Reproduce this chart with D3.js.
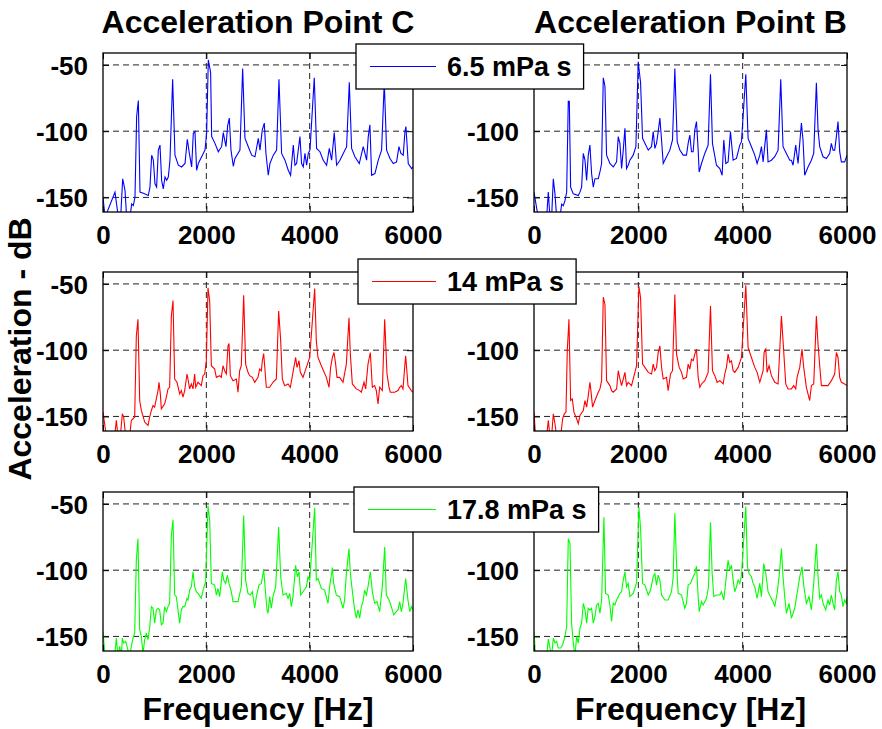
<!DOCTYPE html>
<html><head><meta charset="utf-8">
<script src="https://cdn.jsdelivr.net/npm/d3@7"></script>
<style>
html,body{margin:0;padding:0;background:#fff;}
svg{display:block;font-family:"Liberation Sans",Arial,sans-serif;font-weight:bold;}
</style></head>
<body><svg id="c" width="882" height="729"></svg>
<script>
// ---- data: [frequency Hz, acceleration dB] ----
const columnTitles = ["Acceleration Point C", "Acceleration Point B"];
const viscosityLabels = ["6.5 mPa s", "14 mPa s", "17.8 mPa s"];
const seriesColors = ["#0000ff", "#ff0000", "#00ff00"];
const xTicks = [0, 2000, 4000, 6000];
const yTicks = [-150, -100, -50];
const xLabel = "Frequency [Hz]";
const yLabel = "Acceleration - dB";

const pointC_65 = [[0,-150],[40,-165],[232,-146],[297,-165],[342,-165],[381,-135.9],[426,-144.7],[458,-165],[522,-165],[555,-154.9],[587,-156.2],[619,-149.8],[651,-88.9],[684,-76.9],[716,-146],[780,-146.8],[877,-148.6],[909,-142.2],[942,-118.1],[974,-121.9],[1006,-139.7],[1038,-142.2],[1071,-114.3],[1103,-110.5],[1135,-137.1],[1167,-143.5],[1200,-134.6],[1232,-137.1],[1264,-134.6],[1296,-121.9],[1348,-60.9],[1393,-118.1],[1458,-125.7],[1522,-127],[1587,-124.4],[1632,-106.1],[1671,-116.8],[1716,-127],[1748,-101.6],[1780,-100.3],[1812,-129.5],[1845,-124.4],[1909,-119.3],[1974,-114.3],[2006,-101.6],[2038,-46.2],[2083,-55.8],[2103,-104.1],[2167,-109.2],[2232,-115.5],[2296,-111.7],[2328,-101.1],[2380,-111.7],[2412,-96],[2445,-90.1],[2477,-114.3],[2522,-126.5],[2554,-120.6],[2651,-114.3],[2703,-52.8],[2748,-105.4],[2812,-111.7],[2877,-118.1],[2941,-119.3],[3006,-105.4],[3038,-114.3],[3083,-99],[3122,-93.9],[3154,-116.8],[3199,-133.3],[3231,-124.4],[3296,-118.1],[3360,-114.3],[3406,-60.9],[3457,-116.8],[3522,-121.9],[3586,-129.5],[3631,-133.3],[3683,-110.5],[3715,-125.7],[3747,-124.4],[3812,-104.1],[3844,-124.4],[3876,-127],[3909,-116.8],[3941,-125.7],[3973,-116.8],[4006,-114.3],[4089,-59.7],[4134,-113],[4199,-115.5],[4263,-121.9],[4328,-125.7],[4380,-113],[4425,-121.9],[4476,-101.1],[4521,-125.7],[4586,-121.9],[4650,-116.8],[4715,-111.7],[4767,-63],[4812,-113],[4876,-119.3],[4960,-124.4],[5037,-111.7],[5070,-116.8],[5102,-121.9],[5134,-104.1],[5166,-95.2],[5199,-133.3],[5263,-132],[5328,-121.9],[5392,-114.3],[5444,-63],[5489,-114.3],[5554,-120.6],[5618,-124.4],[5682,-123.2],[5728,-111.7],[5766,-116.8],[5811,-118.1],[5844,-100.3],[5863,-96.5],[5908,-124.4],[5973,-128.2],[6000,-127]];

const pointB_65 = [[0,-146],[80,-165],[243,-165],[274,-146],[306,-165],[338,-165],[370,-135.9],[402,-147.3],[434,-165],[498,-165],[530,-155],[562,-156.2],[594,-152.4],[626,-146],[657,-77.4],[677,-77.4],[702,-142.2],[753,-147.3],[849,-148.6],[881,-146],[913,-142.2],[945,-116.8],[977,-121.9],[1009,-137.1],[1040,-118.1],[1072,-110.5],[1104,-132],[1136,-142.2],[1168,-135.9],[1232,-135.9],[1264,-130.8],[1296,-124.4],[1328,-59.7],[1360,-66.1],[1391,-118.1],[1455,-124.4],[1519,-127],[1583,-123.2],[1615,-104.1],[1647,-109.2],[1679,-128.2],[1711,-114.3],[1743,-97.8],[1774,-128.2],[1806,-125.7],[1838,-121.9],[1902,-118.1],[1953,-111.7],[1998,-47.7],[2043,-63.5],[2081,-105.4],[2126,-109.2],[2190,-114.3],[2253,-111.7],[2285,-100.3],[2317,-113],[2349,-109.2],[2381,-100.3],[2413,-90.1],[2445,-106.6],[2477,-124.4],[2540,-119.3],[2604,-114.3],[2655,-106.6],[2700,-52.8],[2745,-107.9],[2796,-114.3],[2860,-118.1],[2923,-118.1],[2955,-109.2],[2987,-102.9],[3019,-115.5],[3051,-115.5],[3083,-99],[3115,-92.7],[3147,-114.3],[3166,-130.8],[3211,-124.4],[3274,-116.8],[3338,-110.5],[3383,-57.1],[3421,-109.2],[3498,-125.7],[3562,-128.2],[3606,-133.3],[3638,-106.6],[3677,-124.4],[3721,-123.2],[3766,-100.3],[3817,-121.9],[3881,-120.6],[3945,-110.5],[3977,-107.9],[4060,-57.1],[4104,-105.4],[4168,-111.7],[4232,-118.1],[4277,-124.4],[4328,-118.1],[4360,-111.7],[4392,-123.2],[4455,-99],[4487,-123.2],[4551,-121.9],[4615,-119.3],[4679,-114.3],[4730,-60.9],[4774,-111.7],[4838,-116.8],[4902,-121.9],[4934,-121.9],[4966,-125.7],[5017,-110.5],[5062,-124.4],[5126,-93.9],[5157,-106.6],[5189,-133.3],[5253,-127],[5317,-121.9],[5362,-116.8],[5413,-63.5],[5445,-99],[5477,-111.7],[5540,-119.3],[5604,-120.6],[5668,-116.8],[5700,-109.2],[5732,-114.3],[5764,-114.3],[5796,-104.1],[5828,-92.7],[5860,-115.5],[5892,-123.2],[5955,-123.2],[6000,-118.1]];

const pointC_14 = [[0,-146.75],[65,-165],[226,-165],[258,-153],[290,-165],[336,-165],[374,-148],[400,-150.5],[439,-165],[516,-165],[548,-153],[581,-151.75],[613,-150.5],[645,-89.25],[677,-76.75],[710,-138],[742,-145.5],[807,-154.25],[871,-156.75],[903,-150.5],[936,-145.5],[968,-141.75],[1000,-143],[1032,-136.75],[1065,-130.5],[1084,-124.25],[1110,-133],[1129,-144.25],[1194,-140.5],[1226,-135.5],[1258,-129.25],[1290,-128],[1323,-74.25],[1355,-62.5],[1387,-121.75],[1432,-124.25],[1484,-133],[1516,-130.5],[1548,-135.5],[1581,-130.5],[1626,-118],[1645,-121.75],[1677,-129.25],[1710,-125.5],[1742,-129.25],[1774,-118],[1794,-128],[1839,-124.25],[1903,-126.75],[1936,-119.25],[1968,-118],[2000,-108],[2032,-53],[2065,-63],[2097,-111.75],[2161,-114.25],[2194,-120.5],[2258,-119.25],[2290,-120.5],[2323,-111.75],[2355,-115.5],[2387,-118],[2419,-96.75],[2439,-95],[2465,-119.25],[2516,-123],[2581,-121.75],[2613,-131.75],[2645,-115.5],[2677,-111.75],[2723,-58.5],[2761,-110.5],[2806,-116.75],[2839,-119.25],[2890,-120.5],[2936,-124.25],[3000,-120.5],[3032,-114.25],[3065,-115.5],[3084,-108],[3110,-102.5],[3129,-111.75],[3161,-128],[3226,-128],[3290,-124.25],[3355,-121.75],[3400,-70.5],[3439,-93],[3471,-121.75],[3516,-126.75],[3581,-125.5],[3626,-128],[3677,-116.75],[3729,-105.5],[3755,-113],[3794,-108],[3819,-116.75],[3871,-120.5],[3936,-113],[4000,-105.5],[4045,-81.75],[4097,-53.5],[4129,-93],[4161,-105.5],[4226,-111.75],[4323,-120.5],[4374,-128],[4406,-113],[4439,-105.5],[4471,-101.75],[4503,-110.5],[4529,-120.5],[4581,-120.5],[4645,-124.25],[4710,-110.5],[4761,-75.5],[4787,-103],[4826,-125.5],[4903,-129.25],[4968,-130.5],[5000,-131.75],[5052,-124.25],[5084,-129.25],[5129,-110.5],[5174,-101.75],[5213,-128],[5258,-126.75],[5290,-130.5],[5323,-140.5],[5355,-128],[5406,-130.5],[5452,-76.75],[5497,-118],[5536,-128],[5561,-131.75],[5645,-131.75],[5710,-130.5],[5742,-128],[5774,-126.75],[5806,-129.25],[5839,-113],[5858,-104.25],[5903,-126.75],[5968,-130.5],[6000,-131.75]];

const pointB_14 = [[0,-146.75],[30,-165],[243,-165],[274,-153],[306,-165],[338,-165],[370,-148],[402,-155.5],[434,-165],[511,-165],[549,-151.75],[581,-148],[613,-146.75],[638,-100],[670,-76.75],[702,-138],[734,-136.75],[766,-146.75],[817,-151.75],[849,-155.5],[881,-149.25],[945,-145.5],[977,-138],[1009,-143],[1040,-134.25],[1072,-124.25],[1091,-130.5],[1123,-143],[1168,-138],[1232,-131.75],[1264,-129.25],[1296,-123],[1328,-60],[1360,-65.5],[1391,-123],[1455,-126.75],[1487,-130.5],[1519,-131.75],[1583,-129.25],[1615,-115.5],[1647,-121.75],[1679,-126.75],[1711,-121.75],[1743,-116.75],[1774,-126.75],[1806,-124.25],[1870,-126.75],[1934,-116.75],[1966,-111.75],[2011,-51.75],[2043,-60.5],[2081,-110.5],[2126,-113],[2190,-116.75],[2253,-118],[2285,-110.5],[2317,-115.5],[2349,-113],[2381,-101.75],[2413,-96.75],[2445,-113],[2477,-121.75],[2540,-120.5],[2572,-130.5],[2617,-118],[2655,-115.5],[2700,-58],[2732,-103],[2783,-113],[2828,-116.75],[2860,-121.75],[2923,-120.5],[2955,-110.5],[2987,-114.25],[3019,-106.75],[3051,-108],[3083,-103],[3115,-99.25],[3147,-120.5],[3179,-128],[3211,-125.5],[3274,-123],[3338,-116.75],[3383,-66.75],[3421,-115.5],[3466,-119.25],[3511,-124.25],[3562,-123],[3626,-125.5],[3657,-118],[3689,-113],[3721,-103],[3753,-109.25],[3785,-108],[3817,-115.5],[3849,-116.75],[3913,-113],[3977,-105.5],[4060,-51],[4104,-98],[4168,-105.5],[4232,-113],[4277,-116.75],[4328,-124.25],[4392,-115.5],[4411,-101.75],[4443,-99.25],[4468,-116.75],[4506,-111.75],[4551,-119.25],[4615,-124.25],[4679,-125.5],[4743,-74.25],[4774,-93],[4826,-125.5],[4870,-129.25],[4934,-129.25],[4979,-126.75],[5017,-129.25],[5043,-120.5],[5094,-113],[5138,-99.25],[5170,-113],[5221,-128],[5285,-138],[5317,-126.75],[5362,-125.5],[5413,-74.25],[5445,-95.5],[5477,-111.75],[5509,-126.75],[5572,-126.75],[5636,-126.75],[5700,-123],[5764,-118],[5796,-101.75],[5828,-105.5],[5860,-120.5],[5892,-124.25],[5955,-125.5],[6000,-126.75]];

const pointC_178 = [[0,-146.25],[40,-165],[226,-165],[258,-151.25],[290,-165],[323,-157.5],[355,-165],[374,-151.25],[400,-155],[439,-153.75],[465,-157.5],[516,-165],[548,-157.5],[581,-151.25],[613,-147.5],[645,-92.5],[677,-76.25],[710,-145],[742,-150],[774,-163],[807,-152.5],[839,-147.5],[871,-152.5],[903,-143.75],[936,-127.5],[968,-128.75],[1000,-140],[1032,-130],[1065,-128.75],[1097,-130],[1129,-141.25],[1161,-140],[1194,-127.5],[1226,-131.25],[1258,-127.5],[1290,-125],[1323,-73.75],[1355,-62],[1387,-118.75],[1419,-120],[1484,-140],[1516,-130],[1548,-127.5],[1581,-127.5],[1626,-121.25],[1645,-122.5],[1677,-115],[1710,-112.5],[1742,-101.25],[1774,-112.5],[1806,-116.25],[1839,-117.5],[1903,-121.25],[1936,-115],[1987,-108.75],[2032,-51.25],[2065,-62.5],[2097,-110],[2161,-111.25],[2194,-118.75],[2226,-113.75],[2258,-120],[2310,-101.25],[2336,-107.5],[2374,-110],[2407,-103.75],[2439,-110],[2484,-116.25],[2516,-123.75],[2613,-123.75],[2677,-112.5],[2723,-58.75],[2761,-107.5],[2806,-117.5],[2852,-118.75],[2890,-116.25],[2936,-128.75],[2968,-120],[3019,-111.25],[3065,-110],[3110,-99.5],[3142,-115],[3174,-130],[3194,-132.5],[3226,-120],[3258,-128.75],[3290,-120],[3342,-112.5],[3400,-67.5],[3439,-105],[3484,-118.75],[3548,-117.5],[3581,-121.25],[3613,-117.5],[3645,-127.5],[3677,-120],[3729,-96.25],[3761,-105],[3794,-101.25],[3826,-118.75],[3871,-116.25],[3936,-112.5],[3968,-105],[4000,-107.5],[4032,-90],[4097,-53],[4129,-107.5],[4161,-106.25],[4226,-113.75],[4290,-115],[4355,-125],[4387,-112.5],[4439,-98],[4465,-110],[4516,-118.75],[4581,-120],[4645,-128.75],[4677,-122.5],[4710,-102.5],[4761,-83.75],[4787,-102.5],[4839,-120],[4871,-130],[4903,-136.25],[4935,-130],[4968,-136.25],[5000,-127.5],[5032,-123.75],[5065,-115],[5097,-118.75],[5129,-112.5],[5174,-101.25],[5213,-116.25],[5258,-125],[5303,-123.75],[5355,-131.25],[5406,-112.5],[5452,-82.5],[5484,-118.75],[5536,-122.5],[5581,-127.5],[5626,-133.75],[5677,-131.25],[5710,-130],[5742,-123.75],[5774,-131.25],[5806,-125],[5858,-106.25],[5903,-122.5],[5936,-131.25],[5968,-127.5],[6000,-130]];

const pointB_178 = [[0,-146.25],[30,-165],[243,-165],[274,-152],[306,-158.75],[338,-165],[370,-151.25],[402,-155],[434,-153.75],[466,-158.75],[511,-158.75],[549,-156.25],[594,-150],[626,-142.5],[657,-76.25],[689,-80],[721,-140],[753,-155],[785,-165],[817,-150],[849,-155],[881,-143.75],[913,-140],[945,-125],[977,-130],[1009,-140],[1040,-128.75],[1072,-130],[1104,-128.75],[1136,-140],[1168,-135],[1200,-126.25],[1232,-125],[1264,-132.5],[1296,-122.5],[1340,-60],[1372,-117.5],[1423,-118.75],[1455,-126.25],[1487,-138.75],[1519,-125],[1551,-126.25],[1583,-122.5],[1615,-120],[1647,-117.5],[1679,-116.25],[1711,-107.5],[1743,-101.25],[1774,-112.5],[1806,-110],[1838,-120],[1902,-117.5],[1966,-109.5],[2011,-52.5],[2043,-68.75],[2081,-110],[2126,-111.25],[2190,-118.75],[2234,-115],[2285,-105],[2317,-102.5],[2349,-111.25],[2381,-103.75],[2413,-107.5],[2445,-118.75],[2509,-122.5],[2572,-122.5],[2636,-116.25],[2668,-105],[2700,-57],[2732,-95],[2764,-117.5],[2828,-118.75],[2891,-128.75],[2923,-125],[2955,-111.25],[3000,-110],[3051,-105],[3083,-102.5],[3115,-97],[3147,-120],[3166,-131.25],[3211,-123.75],[3243,-126.25],[3306,-121.25],[3345,-112.5],[3383,-63.75],[3415,-102.5],[3447,-120],[3498,-118.75],[3562,-118.75],[3594,-116.25],[3638,-122.5],[3689,-103.75],[3721,-92.5],[3753,-100],[3785,-96.25],[3817,-107.5],[3849,-116.25],[3881,-112.5],[3913,-107.5],[3945,-110],[3977,-103.75],[4060,-52],[4092,-97.5],[4123,-102.5],[4168,-105],[4200,-110],[4232,-112.5],[4277,-121.25],[4328,-110],[4360,-120],[4404,-95],[4443,-102.5],[4487,-116.25],[4532,-120],[4583,-123.75],[4615,-127.5],[4660,-117.5],[4698,-105],[4743,-83.75],[4774,-105],[4806,-120],[4838,-132.5],[4889,-125],[4934,-136.25],[4966,-132.5],[4998,-128.75],[5043,-117.5],[5094,-105],[5138,-97.5],[5170,-111.25],[5221,-125],[5272,-120],[5317,-130],[5362,-110],[5413,-80],[5445,-105],[5477,-121.25],[5509,-118.75],[5540,-125],[5591,-130],[5636,-122.5],[5668,-126.25],[5700,-118.75],[5732,-125],[5764,-130],[5796,-107.5],[5828,-101.25],[5860,-116.25],[5892,-118.75],[5923,-127.5],[5955,-122.5],[5987,-125],[6000,-120]];

const panelSeries = [
  [pointC_65, pointB_65],
  [pointC_14, pointB_14],
  [pointC_178, pointB_178]
];

// ---- layout ----
const svg = d3.select("#c");
const colX = [[103, 413], [534, 847]];
const rowY = [[53, 212], [272, 431], [492, 651]];
const xDomain = [0, 6000], yDomain = [-161, -41];
const FONT = '"Liberation Sans", Arial, sans-serif';
const plainFmt = d => String(d); // ASCII hyphen-minus, as in the reference

const defs = svg.append("defs");

rowY.forEach((ry, r) => {
  colX.forEach((cx, c) => {
    const x = d3.scaleLinear().domain(xDomain).range(cx);
    const y = d3.scaleLinear().domain(yDomain).range([ry[1], ry[0]]);
    const g = svg.append("g");
    const id = `clip${r}${c}`;
    defs.append("clipPath").attr("id", id).append("rect")
      .attr("x", cx[0]).attr("y", ry[0]).attr("width", cx[1]-cx[0]).attr("height", ry[1]-ry[0]);

    // grid
    g.append("g").selectAll("line").data(xTicks.filter(t => t > 0 && t < 6000)).join("line")
      .attr("x1", d => x(d)).attr("x2", d => x(d)).attr("y1", ry[0]).attr("y2", ry[1])
      .attr("stroke", "#222").attr("stroke-width", 1).attr("stroke-dasharray", "6,4");
    g.append("g").selectAll("line").data(yTicks).join("line")
      .attr("x1", cx[0]).attr("x2", cx[1]).attr("y1", d => y(d)).attr("y2", d => y(d))
      .attr("stroke", "#222").attr("stroke-width", 1).attr("stroke-dasharray", "6,4");

    // series line
    const line = d3.line().x(d => x(d[0])).y(d => y(d[1]));
    g.append("path").datum(panelSeries[r][c])
      .attr("clip-path", `url(#${id})`)
      .attr("d", line).attr("fill", "none")
      .attr("stroke", seriesColors[r]).attr("stroke-width", 1.1);

    // axes (ticks inside, MATLAB style)
    const ax = g.append("g").attr("font-family", FONT).attr("font-weight", "bold");
    const bottom = ax.append("g").attr("transform", `translate(0,${ry[1]})`)
      .call(d3.axisBottom(x).tickValues(xTicks).tickSize(-6).tickPadding(14).tickFormat(plainFmt));
    const top = ax.append("g").attr("transform", `translate(0,${ry[0]})`)
      .call(d3.axisTop(x).tickValues(xTicks).tickSize(-6).tickFormat(""));
    const left = ax.append("g").attr("transform", `translate(${cx[0]},0)`)
      .call(d3.axisLeft(y).tickValues(yTicks).tickSize(-6).tickPadding(15).tickFormat(plainFmt));
    const right = ax.append("g").attr("transform", `translate(${cx[1]},0)`)
      .call(d3.axisRight(y).tickValues(yTicks).tickSize(-6).tickFormat(""));
    [bottom, top, left, right].forEach(a => {
      a.select(".domain").remove();
      a.selectAll(".tick line").attr("stroke", "#000").attr("stroke-width", 1);
    });
    bottom.selectAll(".tick text").attr("font-size", 26).attr("fill", "#000")
      .attr("font-family", FONT).attr("font-weight", "bold").attr("dy", "0.71em");
    left.selectAll(".tick text").attr("font-size", 26).attr("fill", "#000")
      .attr("font-family", FONT).attr("font-weight", "bold").attr("dy", "0.36em");
    // in the reference the legend box hides the top tick label of the right-hand column
    if (c === 1) left.selectAll(".tick").filter(d => d === -50).select("text").remove();

    // box
    g.append("rect").attr("x", cx[0]).attr("y", ry[0]).attr("width", cx[1]-cx[0]).attr("height", ry[1]-ry[0])
      .attr("fill", "none").attr("stroke", "#000").attr("stroke-width", 1.3);
  });
});

// ---- legends ----
const legendTop = [44, 259, 487];
const legendLeft = [356, 358, 354];
legendTop.forEach((ty, r) => {
  const lg = svg.append("g");
  const rect = lg.append("rect").attr("x", legendLeft[r]).attr("y", ty).attr("height", 45)
    .attr("fill", "#fff").attr("stroke", "#000").attr("stroke-width", 1.3);
  const cy = ty + 22.5;
  lg.append("line").attr("x1", legendLeft[r] + 14).attr("x2", 436).attr("y1", cy).attr("y2", cy)
    .attr("stroke", seriesColors[r]).attr("stroke-width", 1.1);
  const t = lg.append("text").attr("x", 447).attr("y", cy).attr("dy", "0.36em")
    .attr("font-family", FONT).attr("font-weight", "bold").attr("font-size", 27)
    .attr("fill", "#000").text(viscosityLabels[r]);
  const w = t.node().getComputedTextLength();
  rect.attr("width", 447 + w + 12 - legendLeft[r]);
});

// ---- titles and axis labels ----
const titleG = svg.append("g").attr("font-family", FONT).attr("font-weight", "bold").attr("font-size", 32).attr("fill", "#000");
colX.forEach((cx, c) => {
  titleG.append("text").attr("x", (cx[0] + cx[1]) / 2).attr("y", 33).attr("text-anchor", "middle").text(columnTitles[c]);
  titleG.append("text").attr("x", (cx[0] + cx[1]) / 2).attr("y", 720).attr("text-anchor", "middle").text(xLabel);
});
titleG.append("text").attr("transform", "translate(31,349) rotate(-90)").attr("text-anchor", "middle").text(yLabel);
</script>
</body></html>
